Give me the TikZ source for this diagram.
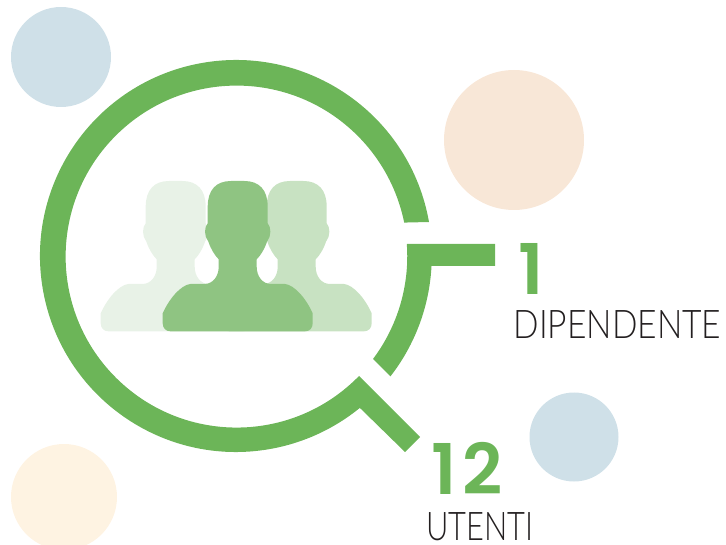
\documentclass[tikz,border=0pt]{standalone}
\usepackage{fontspec}
\newfontfamily\labfont{Lato Light}[FakeStretch=0.85]
\newfontfamily\narrowfont{Lato Light}[FakeStretch=0.78]
\newfontfamily\numfont{Poppins SemiBold}[LetterSpace=5]
\newfontfamily\widenumfont{Poppins SemiBold}[LetterSpace=9]
\definecolor{ringgreen}{HTML}{6CB558}
\definecolor{pfront}{HTML}{8FC482}
\definecolor{pright}{HTML}{C8E2C2}
\definecolor{pleft}{HTML}{E8F2E7}
\definecolor{dotblue}{HTML}{CFE0E8}
\definecolor{dotpeach}{HTML}{F8E7D7}
\definecolor{dotcream}{HTML}{FEF3E2}
\definecolor{ink}{HTML}{231F20}
\tikzset{
  dot/.style={fill=#1,draw=none},
  ring/.style={fill=ringgreen,draw=none},
  numlabel/.style={text=ringgreen,font=#1\fontsize{70}{70}\selectfont,anchor=base west,inner sep=0pt,text height=49pt,text depth=0pt},
  wordlabel/.style={text=ink,font=#1\fontsize{39.5}{39.5}\selectfont,anchor=base west,inner sep=0pt,text height=28pt,text depth=0pt}
}
\newcommand{\person}[3]{%
  \fill[#1,shift={(#2,#3)},x=0.3333pt,y=-0.3333pt]
    (-20,33) -- (20,33) .. controls (65,33) and (90,60) .. (90,110)
    -- (90,160) .. controls (100,170) and (102,198) .. (88,215)
    .. controls (80,238) and (70,255) .. (57,268)
    -- (57,290) .. controls (57,320) and (75,342) .. (100,342)
    -- (142,342) .. controls (170,345) and (205,385) .. (225,430)
    -- (225,460) .. controls (225,475) and (215,484) .. (202,484)
    -- (-202,484) .. controls (-215,484) and (-225,475) .. (-225,460)
    -- (-225,430) .. controls (-205,385) and (-170,345) .. (-142,342)
    -- (-100,342) .. controls (-75,342) and (-57,320) .. (-57,290)
    -- (-57,268) .. controls (-70,255) and (-80,238) .. (-88,215)
    .. controls (-102,198) and (-100,170) .. (-90,160)
    -- (-90,110) .. controls (-90,60) and (-65,33) .. (-20,33) -- cycle;}
\begin{document}
\begin{tikzpicture}[x=1pt,y=-1pt]
\useasboundingbox (0,0) rectangle (726,545);
\fill[dot=dotblue] (61,57) circle[radius=50];
\fill[dot=dotpeach] (514,140) circle[radius=70];
\fill[dot=dotblue] (574,437) circle[radius=44.5];
\begin{scope}
\clip (0,0) rectangle (726,545);
\fill[dot=dotcream] (64,497) circle[radius=53];
\end{scope}
\person{pleft}{175.7}{170}
\person{pright}{296.7}{170}
\person{pfront}{237.7}{170}
% large ring with its lower tail
\fill[ring] (429,222) arc[start angle=-9.99,end angle=-309.2,radius=196]
  -- (405,452) -- (420,437) -- (359,376)
  arc[start angle=-315.7,end angle=-11.47,radius=171] -- cycle;
% right ring segment with its upper tail
\fill[ring] (407,244) -- (495,244) -- (495,266) -- (431.5,266)
  arc[start angle=2.93,end angle=37.9,radius=196]
  -- (373,359)
  arc[start angle=36.9,end angle=-4,radius=171] -- cycle;
\node[numlabel=\numfont] (one) at (518,295) {1};
\node[wordlabel=\labfont] (dip) at (513.5,339) {DIPENDENTE};
\node[numlabel=\widenumfont] (twelve) at (431,494) {12};
\node[wordlabel=\narrowfont] (ute) at (426,540) {UTENTI};
\end{tikzpicture}
\end{document}
